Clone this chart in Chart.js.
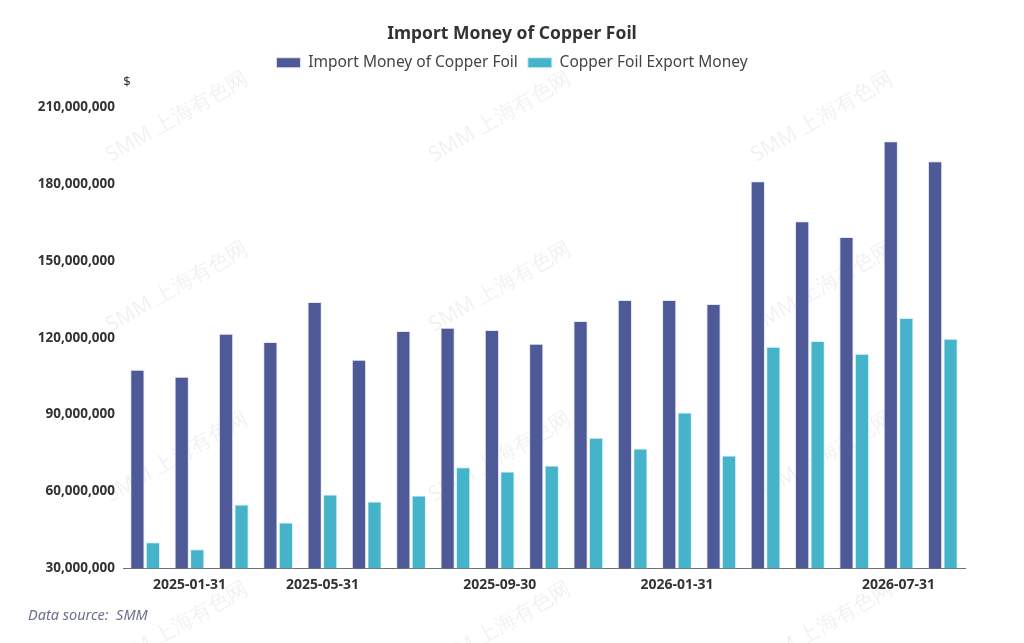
<!DOCTYPE html>
<html>
<head>
<meta charset="utf-8">
<script src="https://cdn.jsdelivr.net/npm/chart.js@4"></script>
<style>
html,body{margin:0;padding:0;background:#fff;}
#wrap{width:1024px;height:643px;position:relative;}
</style>
</head>
<body>
<div id="wrap"><canvas id="c" width="1024" height="643"></canvas></div>
<script>
const tickLabels = ['', '2025-01-31', '', '', '2025-05-31', '', '', '', '2025-09-30', '', '', '', '2026-01-31', '', '', '', '', '2026-07-31', ''];
const importMoney = [107.5, 104.8, 121.6, 118.4, 134.0, 111.4, 122.7, 123.9, 123.1, 117.7, 126.6, 134.8, 134.8, 133.2, 181.2, 165.6, 159.4, 196.8, 189.0].map(v => v * 1e6);
const exportMoney = [40.1, 37.4, 54.9, 47.9, 58.8, 56.1, 58.4, 69.4, 67.8, 70.1, 81.0, 76.8, 90.8, 74.0, 116.5, 118.8, 113.8, 127.8, 119.6].map(v => v * 1e6);
const seriesNames = ['Import Money of Copper Foil', 'Copper Foil Export Money'];
const yTicks = [30000000, 60000000, 90000000, 120000000, 150000000, 180000000, 210000000];

const FONT = '"Noto Sans", "Open Sans", sans-serif';

const legendMargin = {
  id: 'legendMargin',
  beforeInit(chart) {
    const orig = chart.legend.fit;
    chart.legend.fit = function () {
      orig.bind(chart.legend)();
      this.height += 27;
    };
  }
};

const watermark = {
  id: 'watermark',
  beforeDatasetsDraw(chart) {
    const ctx = chart.ctx;
    ctx.save();
    ctx.font = '21px ' + FONT;
    ctx.fillStyle = 'rgba(0,0,0,0.055)';
    ctx.textAlign = 'center';
    ctx.textBaseline = 'middle';
    const xs = [177, 500, 822];
    const ys = [117, 287, 457, 627];
    xs.forEach(x => ys.forEach(y => {
      ctx.save();
      ctx.translate(x, y);
      ctx.rotate(-30 * Math.PI / 180);
      ctx.fillText('SMM 上海有色网', 0, 0);
      ctx.restore();
    }));
    ctx.restore();
  }
};

const extras = {
  id: 'extras',
  afterDraw(chart) {
    const ctx = chart.ctx;
    ctx.save();
    ctx.font = '13px ' + FONT;
    ctx.fillStyle = '#333';
    ctx.textAlign = 'center';
    ctx.textBaseline = 'middle';
    ctx.fillText('$', 127, 82);
    ctx.font = 'italic 14.5px ' + FONT;
    ctx.fillStyle = '#6b7089';
    ctx.textAlign = 'left';
    ctx.fillText('Data source:  SMM', 28, 616);
    ctx.restore();
  }
};

new Chart(document.getElementById('c'), {
  type: 'bar',
  data: {
    labels: tickLabels,
    datasets: [
      { label: seriesNames[0], data: importMoney, backgroundColor: '#4e5a97', borderColor: 'rgba(225,228,245,0.9)', borderWidth: 1, categoryPercentage: 0.7, barPercentage: 0.92 },
      { label: seriesNames[1], data: exportMoney, backgroundColor: '#45b4cb', borderColor: 'rgba(215,240,246,0.9)', borderWidth: 1, categoryPercentage: 0.7, barPercentage: 0.92 }
    ]
  },
  options: {
    responsive: false,
    animation: false,
    devicePixelRatio: 1,
    layout: { padding: { left: 10, right: 10, top: 24, bottom: 42 } },
    plugins: {
      title: {
        display: true,
        text: 'Import Money of Copper Foil',
        color: '#333',
        font: { family: FONT, size: 17.5, weight: 'bold' },
        padding: { top: 0, bottom: 0 }
      },
      legend: {
        display: true,
        labels: {
          color: '#444',
          font: { family: FONT, size: 15.5 },
          boxWidth: 24,
          boxHeight: 10,
          padding: 10
        }
      },
      tooltip: { enabled: false }
    },
    scales: {
      x: {
        grid: { display: false, drawTicks: false },
        border: { display: true, color: '#6E7079', width: 1 },
        ticks: {
          autoSkip: false,
          maxRotation: 0,
          color: '#333',
          padding: 8,
          font: { family: FONT, size: 14, weight: 'bold' },
          callback: (v, i) => tickLabels[i]
        }
      },
      y: {
        min: 30000000,
        max: 210000000,
        afterBuildTicks: s => { s.ticks = yTicks.map(v => ({ value: v })); },
        afterFit: s => { s.width = 113; },
        grid: { display: false, drawTicks: false },
        border: { display: false },
        ticks: {
          color: '#333',
          padding: 8,
          font: { family: FONT, size: 13.5, weight: 'bold' },
          callback: v => v.toLocaleString('en-US')
        }
      },
      yRight: {
        position: 'right',
        display: true,
        afterFit: s => { s.width = 49; },
        grid: { display: false, drawTicks: false },
        border: { display: false },
        ticks: { display: false }
      }
    }
  },
  plugins: [legendMargin, watermark, extras]
});
</script>
</body>
</html>
